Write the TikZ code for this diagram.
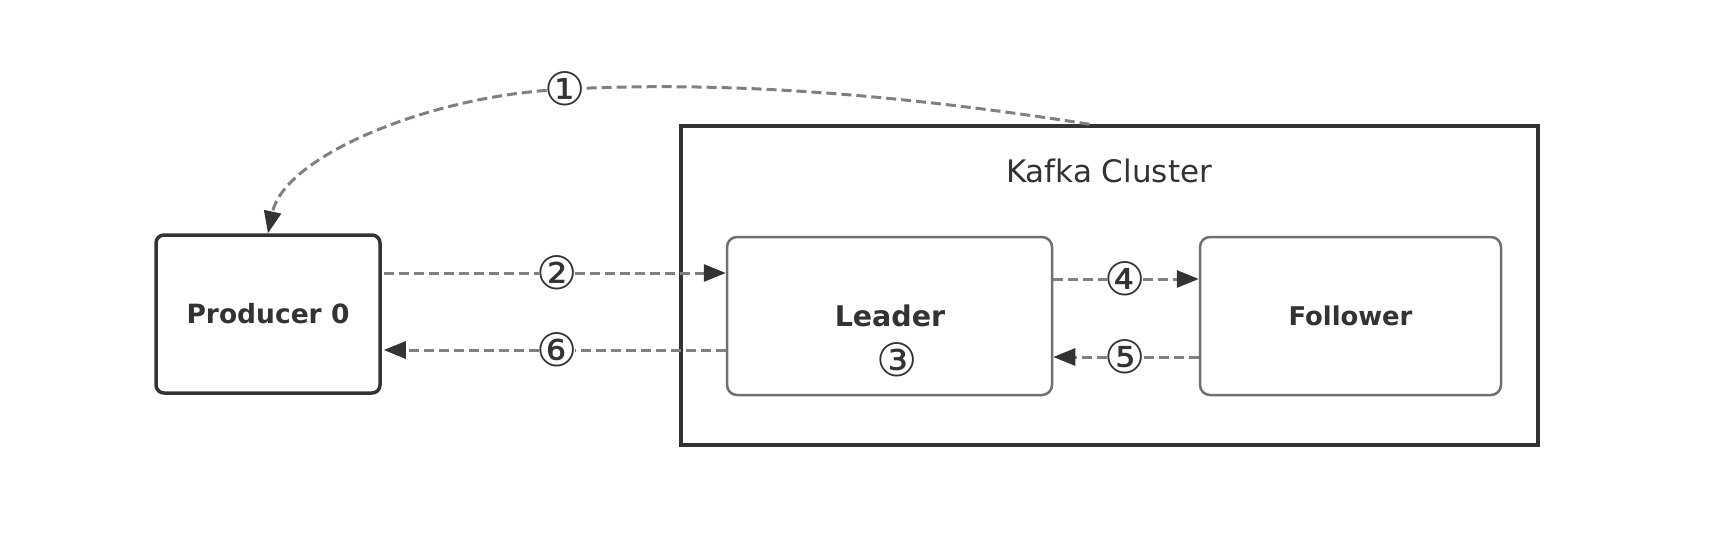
\documentclass[tikz,border=0pt]{standalone}
\usepackage{fontspec}
\setmainfont{DejaVu Sans}
\newfontfamily\numfont{DejaVu Sans}
\usetikzlibrary{arrows.meta,calc}
\definecolor{ink}{HTML}{333333}
\definecolor{dashc}{HTML}{808080}
\definecolor{boxc}{HTML}{707070}
\tikzset{
  outerbox/.style={draw=ink, line width=3.5pt, minimum width=857pt, minimum height=319pt, inner sep=0pt},
  prodbox/.style={draw=ink, line width=3.5pt, rounded corners=8pt, minimum width=224pt, minimum height=158pt, inner sep=0pt,
    text=ink, font=\bfseries\fontsize{26.5}{30}\selectfont},
  brokerbox/.style={draw=boxc, line width=2.5pt, rounded corners=10pt, minimum height=158pt, inner sep=0pt, text=ink},
  title/.style={text=ink, inner sep=0pt, font=\fontsize{31}{36}\selectfont},
  numlabel/.style={text=ink, inner ysep=0pt, inner xsep=-2.5pt, font=\numfont\fontsize{46}{48}\selectfont},
  conn/.style={draw=dashc, line width=3pt, dash pattern=on 10pt off 5pt},
  tip/.style={-{Triangle[length=22pt,width=17pt,color=ink]}}
}
\begin{document}
\begin{tikzpicture}[x=1pt,y=-1pt]
\useasboundingbox (0,0) rectangle (1715,538);
% boxes
\node[outerbox] (kafka) at (1109.5,285.5) {};
\node[title] (ktitle) at (1109,171) {Kafka Cluster};
\node[prodbox] (prod) at (268,314) {Producer 0};
\node[brokerbox, minimum width=325pt] (lead) at (889.5,316) {};
\node[text=ink, inner sep=0pt, font=\bfseries\fontsize{28.5}{32}\selectfont] (leadtxt) at (890,316) {Leader};
\node[brokerbox, minimum width=301pt, font=\bfseries\fontsize{25.8}{30}\selectfont] (foll) at (1350.5,316) {Follower};
% number labels
\node[numlabel] (n1) at (565,89) {①};
\node[numlabel] (n2) at (557,273) {②};
\node[numlabel] (n3) at (897,360) {③};
\node[numlabel] (n4) at (1125,279) {④};
\node[numlabel] (n5) at (1125,357) {⑤};
\node[numlabel] (n6) at (557,350) {⑥};
% connectors
\coordinate (c0) at ([xshift=-20pt]kafka.north);
\draw[conn] (c0) .. controls (870,90) and (715,83) .. (n1);
\draw[conn,tip] (n1) .. controls (420,100) and (284,158) .. (prod.north);
\draw[conn] ([xshift=2pt]prod.east |- n2) -- (n2);
\draw[conn,tip] (n2) -- (lead.west |- n2);
\draw[conn] (lead.west |- n6) -- (n6);
\draw[conn,tip] (n6) -- ([xshift=2pt]prod.east |- n6);
\draw[conn] (lead.east |- n4) -- (n4);
\draw[conn,tip] (n4) -- (foll.west |- n4);
\draw[conn] (foll.west |- n5) -- (n5);
\draw[conn,tip] (n5) -- (lead.east |- n5);
\end{tikzpicture}
\end{document}
